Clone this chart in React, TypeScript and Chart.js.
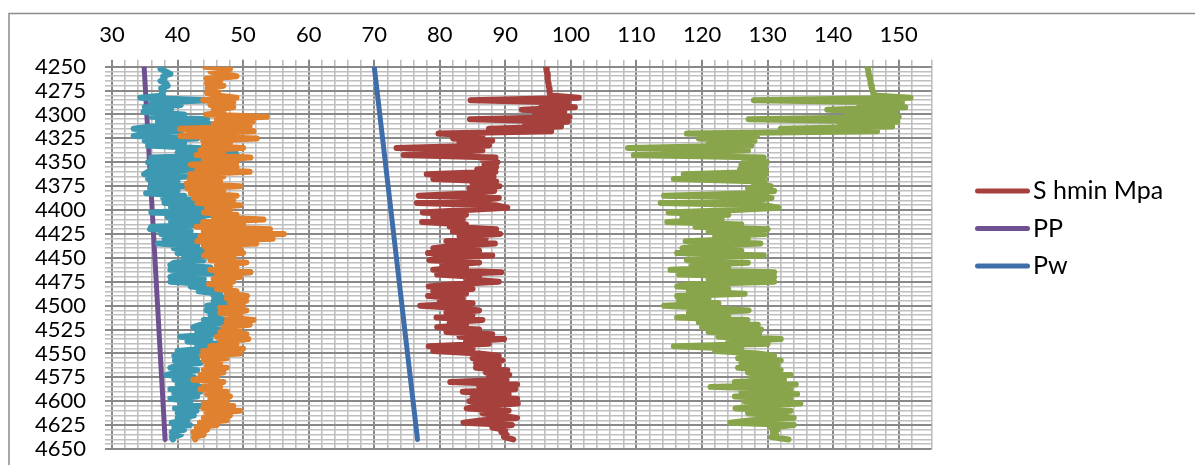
import React, { useEffect, useRef } from 'react';
import { Chart, registerables } from 'chart.js';

Chart.register(...registerables);

// Depth (m) of each log sample
const depthM = [
  4250, 4252.5, 4255, 4257.5, 4260, 4262.5, 4265, 4267.5,
  4270, 4272.5, 4275, 4277.5, 4280, 4282.5, 4285, 4287.5,
  4290, 4292.5, 4295, 4297.5, 4300, 4302.5, 4305, 4307.5,
  4310, 4312.5, 4315, 4317.5, 4320, 4322.5, 4325, 4327.5,
  4330, 4332.5, 4335, 4337.5, 4340, 4342.5, 4345, 4347.5,
  4350, 4352.5, 4355, 4357.5, 4360, 4362.5, 4365, 4367.5,
  4370, 4372.5, 4375, 4377.5, 4380, 4382.5, 4385, 4387.5,
  4390, 4392.5, 4395, 4397.5, 4400, 4402.5, 4405, 4407.5,
  4410, 4412.5, 4415, 4417.5, 4420, 4422.5, 4425, 4427.5,
  4430, 4432.5, 4435, 4437.5, 4440, 4442.5, 4445, 4447.5,
  4450, 4452.5, 4455, 4457.5, 4460, 4462.5, 4465, 4467.5,
  4470, 4472.5, 4475, 4477.5, 4480, 4482.5, 4485, 4487.5,
  4490, 4492.5, 4495, 4497.5, 4500, 4502.5, 4505, 4507.5,
  4510, 4512.5, 4515, 4517.5, 4520, 4522.5, 4525, 4527.5,
  4530, 4532.5, 4535, 4537.5, 4540, 4542.5, 4545, 4547.5,
  4550, 4552.5, 4555, 4557.5, 4560, 4562.5, 4565, 4567.5,
  4570, 4572.5, 4575, 4577.5, 4580, 4582.5, 4585, 4587.5,
  4590, 4592.5, 4595, 4597.5, 4600, 4602.5, 4605, 4607.5,
  4610, 4612.5, 4615, 4617.5, 4620, 4622.5, 4625, 4627.5,
  4630, 4632.5, 4635, 4637.5, 4640,
];

// S hmin Mpa (red)
const shminMpa = [
  96.2, 96.3, 96.3, 96.4, 96.4, 96.5, 96.5, 96.6,
  96.6, 96.7, 96.7, 96.8, 96.9, 101.2, 84.7, 99.5,
  95.5, 100.6, 92.5, 99.0, 94.5, 99.8, 84.6, 99.5,
  93.0, 98.5, 87.5, 97.0, 79.8, 86.5, 82.0, 88.0,
  83.0, 87.5, 73.4, 86.5, 81.0, 74.5, 88.5, 86.5,
  88.8, 86.8, 88.6, 85.7, 88.5, 78.0, 88.2, 79.0,
  88.6, 85.0, 89.1, 84.5, 88.3, 85.0, 76.8, 89.0,
  86.0, 76.5, 88.5, 90.3, 84.0, 77.4, 84.0, 79.0,
  83.5, 77.3, 84.0, 81.5, 88.6, 82.0, 89.2, 83.0,
  87.0, 81.0, 88.4, 82.0, 79.0, 86.0, 78.2, 88.0,
  80.0, 78.4, 86.0, 80.5, 84.0, 79.0, 89.4, 79.6,
  86.0, 84.0, 89.0, 82.0, 78.3, 85.0, 79.0, 84.0,
  78.2, 83.5, 80.0, 85.0, 77.0, 83.0, 86.0, 81.0,
  85.0, 79.5, 86.5, 81.5, 84.0, 79.6, 86.0, 81.0,
  88.0, 83.0, 89.8, 84.0, 87.5, 78.3, 85.0, 79.0,
  86.0, 89.0, 85.0, 89.5, 85.5, 89.0, 85.5, 90.3,
  87.0, 90.6, 87.5, 90.2, 81.6, 91.8, 86.0, 91.5,
  83.5, 90.5, 85.0, 91.8, 84.5, 91.9, 86.0, 84.1,
  90.5, 86.5, 89.0, 91.8, 86.5, 83.6, 91.0, 88.0,
  90.0, 89.4, 90.2, 89.8, 91.2,
];

// Green series (no legend entry)
const greenMpa = [
  145.2, 145.3, 145.4, 145.4, 145.5, 145.6, 145.7, 145.7,
  145.8, 145.9, 146.0, 146.1, 146.2, 151.8, 127.9, 150.5,
  144.0, 151.0, 139.1, 149.5, 142.0, 150.0, 127.1, 149.8,
  141.0, 149.0, 132.0, 146.7, 117.7, 128.4, 119.5, 128.0,
  121.0, 127.5, 108.7, 127.0, 118.0, 109.6, 129.4, 126.5,
  129.9, 126.0, 129.6, 125.8, 129.8, 117.2, 129.5, 115.7,
  129.5, 127.9, 130.5, 127.0, 131.0, 128.0, 114.2, 130.6,
  127.5, 113.7, 129.5, 131.7, 125.0, 114.9, 124.0, 117.0,
  123.0, 114.7, 126.0, 119.0, 130.0, 121.0, 129.6, 122.0,
  127.0, 117.5, 128.9, 120.0, 117.0, 126.0, 116.2, 129.4,
  118.0, 117.7, 127.0, 118.5, 124.0, 115.2, 131.0, 116.5,
  131.0, 121.0, 131.0, 118.0, 116.2, 124.0, 118.0, 126.5,
  116.2, 121.0, 116.5, 122.5, 114.2, 121.0, 127.1, 118.0,
  124.0, 116.2, 126.9, 119.5, 128.5, 120.0, 129.0, 121.0,
  128.7, 122.5, 132.0, 124.0, 130.0, 115.7, 126.0, 122.0,
  128.5, 131.0, 125.5, 132.0, 126.0, 131.5, 125.5, 132.0,
  127.0, 133.5, 127.5, 132.5, 125.0, 134.3, 121.3, 133.5,
  126.0, 134.5, 125.0, 133.5, 126.5, 135.0, 128.0, 125.1,
  133.5, 127.0, 131.5, 134.0, 127.5, 124.3, 134.0, 130.5,
  131.5, 130.8, 131.3, 130.6, 133.2,
];

// Cyan series (no legend entry)
const cyanMpa = [
  37.8, 37.4, 38.2, 38.9, 37.8, 38.0, 37.4, 38.3,
  38.5, 37.5, 37.9, 37.6, 37.8, 34.3, 45.0, 36.0,
  40.5, 35.0, 39.0, 34.8, 41.0, 36.0, 44.5, 37.0,
  45.0, 36.0, 33.3, 40.5, 35.0, 33.3, 43.0, 35.0,
  41.0, 35.5, 43.0, 48.8, 40.0, 49.0, 36.0, 43.5,
  35.5, 42.0, 36.0, 44.0, 35.5, 34.9, 41.5, 35.5,
  40.0, 36.0, 41.5, 35.8, 40.0, 35.2, 41.0, 37.8,
  44.0, 38.0, 45.0, 39.0, 44.0, 36.0, 46.0, 38.5,
  44.0, 39.0, 45.5, 36.0, 35.8, 42.0, 37.5, 43.5,
  38.0, 44.0, 37.0, 43.0, 39.4, 46.0, 40.0, 46.5,
  41.0, 44.0, 39.5, 38.9, 45.0, 38.9, 51.1, 40.0,
  38.9, 44.0, 38.9, 45.0, 42.0, 46.0, 43.2, 46.5,
  45.5, 48.0, 45.5, 47.5, 44.5, 47.0, 44.4, 48.0,
  45.0, 47.0, 44.0, 48.0, 43.5, 42.4, 46.5, 43.0,
  46.0, 40.4, 45.0, 41.5, 46.5, 43.0, 44.0, 40.0,
  43.5, 39.5, 43.0, 39.6, 43.5, 40.0, 38.9, 43.0,
  40.0, 38.3, 42.5, 39.5, 43.0, 40.0, 44.0, 38.9,
  43.5, 39.5, 43.0, 38.9, 42.0, 40.5, 43.5, 39.6,
  42.9, 40.0, 42.5, 40.0, 41.5, 39.1, 41.9, 39.5,
  41.0, 39.1, 40.5, 39.1, 39.3,
];

// Orange series (no legend entry)
const orangeMpa = [
  44.2, 48.0, 45.0, 47.0, 49.0, 44.4, 46.5, 44.5,
  47.0, 44.6, 46.3, 44.5, 46.0, 49.0, 43.9, 48.5,
  45.0, 48.5, 45.5, 47.0, 44.4, 53.6, 46.0, 51.5,
  45.5, 51.0, 40.4, 51.6, 43.0, 40.4, 52.1, 43.9,
  48.0, 44.0, 50.0, 43.5, 47.0, 42.9, 51.1, 44.0,
  49.0, 42.0, 49.0, 43.0, 51.0, 41.9, 47.0, 41.8,
  46.5, 41.4, 49.5, 41.5, 47.0, 42.0, 49.0, 42.5,
  48.5, 43.0, 49.5, 44.5, 48.0, 44.0, 49.0, 45.5,
  53.1, 43.9, 50.0, 42.9, 54.1, 44.0, 56.2, 43.5,
  54.5, 43.0, 52.0, 44.0, 49.5, 44.5, 50.0, 44.0,
  48.5, 45.0, 50.5, 46.0, 49.0, 45.0, 51.1, 46.0,
  49.5, 45.5, 48.5, 44.8, 48.0, 46.0, 49.0, 47.5,
  50.6, 47.5, 50.5, 48.0, 50.0, 46.5, 50.5, 46.5,
  49.5, 47.5, 51.6, 47.5, 51.0, 47.0, 49.5, 46.5,
  50.5, 46.0, 50.8, 46.5, 49.0, 45.0, 50.0, 43.9,
  49.5, 43.7, 47.5, 44.0, 46.5, 44.5, 47.5, 44.0,
  47.0, 43.5, 46.0, 42.4, 47.0, 44.0, 46.5, 43.5,
  47.5, 44.5, 48.0, 45.0, 47.5, 44.0, 48.5, 43.9,
  49.5, 44.5, 48.0, 44.0, 47.5, 43.4, 46.0, 42.9,
  44.5, 42.4, 44.0, 42.5, 42.7,
];

// PP and Pw (straight lines)
const ppDepthM = [4250, 4640];
const ppMpa = [34.9, 38.1];
const pwDepthM = [4250, 4640];
const pwMpa = [70.0, 76.6];

const xTickLabels = [30, 40, 50, 60, 70, 80, 90, 100, 110, 120, 130, 140, 150];
const yTickLabels = [4250, 4275, 4300, 4325, 4350, 4375, 4400, 4425, 4450, 4475, 4500, 4525, 4550, 4575, 4600, 4625, 4650];
const legendNames = ['S hmin Mpa', 'PP', 'Pw'];

const FONT = 'Lato';
const MAJOR = '#898989';
const MINOR = '#bfbfbf';

function toPoints(depths: number[], values: number[]) {
  return values.map((v, i) => ({ x: v, y: depths[i] }));
}

function lineDs(label: string, depths: number[], values: number[], color: string, order: number, width: number) {
  return {
    label,
    data: toPoints(depths, values),
    showLine: true,
    borderColor: color,
    backgroundColor: color,
    borderWidth: width,
    borderCapStyle: 'round',
    borderJoinStyle: 'round',
    pointRadius: 0,
    pointHoverRadius: 0,
    tension: 0,
    fill: false,
    order,
  };
}

export default function App() {
  const ref = useRef<HTMLCanvasElement>(null);

  useEffect(() => {
    const canvas = ref.current;
    if (!canvas) return;

    const framePlugin = {
      id: 'frameAndLegend',
      beforeDraw(chart: any) {
        const ctx = chart.ctx;
        ctx.save();
        ctx.fillStyle = '#ffffff';
        ctx.fillRect(0, 0, chart.width, chart.height);
        ctx.strokeStyle = '#8c8c8c';
        ctx.lineWidth = 1.5;
        ctx.strokeRect(9, 13.5, 1300, 600);
        ctx.restore();
      },
      afterDraw(chart: any) {
        const ctx = chart.ctx;
        ctx.save();
        ctx.font = `25px ${FONT}`;
        ctx.textBaseline = 'middle';
        ctx.textAlign = 'left';
        legendNames.forEach((name, k) => {
          const ds = chart.data.datasets.find((d: any) => d.label === name);
          const y = 191 + k * 37.5;
          ctx.strokeStyle = ds ? ds.borderColor : '#000';
          ctx.lineWidth = 5;
          ctx.lineCap = 'round';
          ctx.beginPath();
          ctx.moveTo(977.5, y);
          ctx.lineTo(1027.5, y);
          ctx.stroke();
          ctx.fillStyle = '#000';
          ctx.fillText(name, 1033, y);
        });
        ctx.restore();
      },
    };

    const isMajorX = (v: number) => v % 10 === 0;
    const isMajorY = (v: number) => v % 25 === 0;

    const chart = new Chart(canvas, {
      type: 'scatter',
      data: {
        datasets: [
          lineDs('Pw', pwDepthM, pwMpa, '#3e6da9', 6, 5) as any,
          lineDs('S hmin Mpa', depthM, shminMpa, '#a5403d', 5, 6) as any,
          lineDs('', depthM, greenMpa, '#88a54b', 4, 6) as any,
          lineDs('PP', ppDepthM, ppMpa, '#6f5192', 3, 5) as any,
          lineDs('', depthM, cyanMpa, '#3d98b1', 2, 6) as any,
          lineDs('', depthM, orangeMpa, '#e0812f', 1, 6) as any,
        ],
      },
      options: {
        animation: false,
        responsive: false,
        devicePixelRatio: 1,
        layout: { padding: { left: 0, top: 0, right: 263.5, bottom: 16 } },
        plugins: {
          legend: { display: false },
          tooltip: { enabled: false },
        },
        scales: {
          x: {
            type: 'linear',
            position: 'top',
            min: 30,
            max: 155,
            ticks: {
              stepSize: 2,
              autoSkip: false,
              maxRotation: 0,
              minRotation: 0,
              padding: 12,
              color: '#000',
              font: { family: FONT, size: 22 },
              callback: (v: any) => (xTickLabels.includes(Number(v)) ? String(v) : ''),
            },
            grid: {
              color: (c: any) => (isMajorX(c.tick.value) ? MAJOR : MINOR),
              tickColor: (c: any) => (isMajorX(c.tick.value) ? MAJOR : MINOR),
              lineWidth: (c: any) => (isMajorX(c.tick.value) ? 2 : 1.6),
              tickLength: 7,
            },
            border: { display: false },
            afterFit: (s: any) => {
              s.height = 66.7;
              s.paddingRight = 0;
            },
          },
          y: {
            type: 'linear',
            reverse: true,
            min: 4250,
            max: 4650,
            ticks: {
              stepSize: 5,
              autoSkip: false,
              padding: 19,
              color: '#000',
              font: { family: FONT, size: 22 },
              callback: (v: any) => (yTickLabels.includes(Number(v)) ? String(v) : ''),
            },
            grid: {
              color: (c: any) => (isMajorY(c.tick.value) ? MAJOR : MINOR),
              tickColor: (c: any) => (isMajorY(c.tick.value) ? MAJOR : MINOR),
              lineWidth: (c: any) => (isMajorY(c.tick.value) ? 2 : 1.6),
              tickLength: 7,
            },
            border: { display: false },
            afterFit: (s: any) => {
              s.width = 112;
              s.paddingTop = 0;
              s.paddingBottom = 0;
            },
          },
        },
      } as any,
      plugins: [framePlugin],
    });

    return () => chart.destroy();
  }, []);

  return (
    <div style={{ position: 'absolute', left: 0, top: 0, width: 1195, height: 465, background: '#fff' }}>
      <canvas ref={ref} width={1195} height={465} style={{ display: 'block' }} />
    </div>
  );
}
